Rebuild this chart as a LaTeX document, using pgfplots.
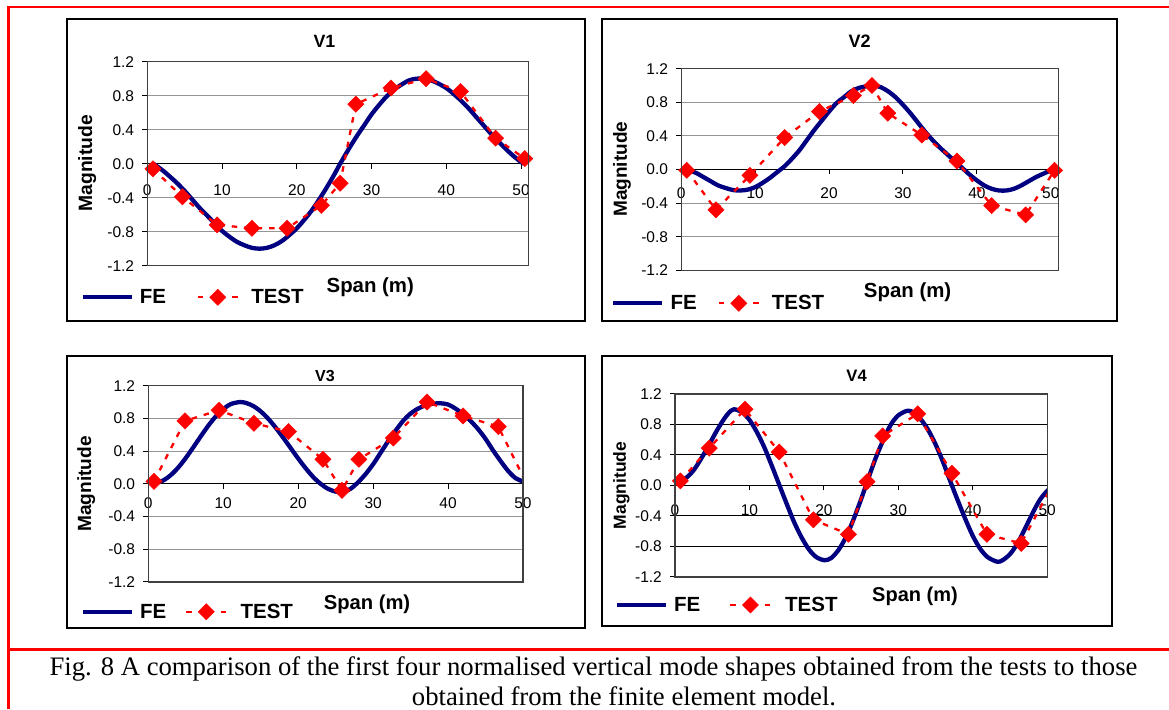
\documentclass[border=0pt]{standalone}
\usepackage{fontspec}
\setmainfont{Liberation Sans}
\newfontfamily\capfont{Liberation Serif}
\usepackage{pgfplots}
\pgfplotsset{compat=1.18}
\definecolor{fenavy}{RGB}{0,0,128}
\definecolor{gridgray}{RGB}{150,150,150}
\newcommand\fs[1]{\fontsize{#1pt}{#1pt}\selectfont}

\pgfplotsset{
  panel/.style={
    scale only axis, anchor=south west,
    xmin=0, ymin=-1.2, ymax=1.2,
    axis x line=middle, axis y line=left,
    axis line style={-, black, line width=1.2pt},
    x axis line style={-}, y axis line style={-},
    hide obscured x ticks=false, hide obscured y ticks=false,
    xtick={0,10,20,30,40,50},
    ytick={-1.2,-0.8,-0.4,0,0.4,0.8,1.2},
    tick align=outside,
    major tick length=5pt,
    tick style={black, line width=1pt},
    ymajorgrids,
    grid style={gridgray, line width=1pt},
    /pgf/number format/assume math mode=true,
    y tick label style={/pgf/number format/fixed, /pgf/number format/fixed zerofill, /pgf/number format/precision=1, font=\fs{15.5}, anchor=east, inner sep=0pt, xshift=-8pt},
    x tick label style={font=\fs{15.5}, anchor=north, inner sep=0pt},
    legend columns=2,
    legend style={draw=none, fill=none, inner sep=0pt, anchor=west, font=\bfseries\fs{20.5}, nodes={inner sep=0pt}, cells={anchor=west}, /tikz/column 1/.style={column sep=6pt}},
  },
  fe/.style={fenavy, line width=4.3pt, smooth, no markers, line join=round,
    legend image code/.code={\draw[##1] (0pt,0pt) -- (49pt,0pt);}},
  test/.style={red, line width=2.3pt, dash pattern=on 5.5pt off 7pt, mark=square*, mark size=5.7pt,
    mark options={solid, rotate=45, fill=red, draw=red, line width=0.5pt}},
  testleg/.style={test, legend image code/.code={\draw[mark repeat=2, mark phase=2, ##1, dash pattern=on 5.5pt off 29pt] plot coordinates {(0pt,0pt) (20pt,0pt) (40pt,0pt)};}},
}

\begin{document}
\begin{tikzpicture}
\path[use as bounding box] (0pt,0pt) rectangle (1169pt,709pt);
% red frame
\draw[red, line width=2.2pt] (8.5pt,0pt) -- (8.5pt,702.3pt) -- (1169pt,702.3pt);
\draw[red, line width=2.2pt] (8.5pt,59.5pt) -- (1169pt,59.5pt);
% panel boxes
\draw[black, line width=2pt] (66.7pt,388.3pt) rectangle (585.2pt,690pt);
\draw[black, line width=2pt] (602.2pt,388pt) rectangle (1117pt,690pt);
\draw[black, line width=2pt] (66.6pt,80.7pt) rectangle (584.5pt,353.3pt);
\draw[black, line width=2pt] (602.2pt,83.3pt) rectangle (1111.7pt,353.3pt);

% ---------------- V1
\begin{axis}[panel, at={(147.3pt,443.3pt)}, width=381.2pt, height=204pt, xmax=51,
  x tick label style={yshift=-15.5pt},
  legend style={at={(-0.1758,-0.1549)}, /tikz/column 2/.style={column sep=30.7pt}, /tikz/column 3/.style={column sep=12.3pt}}]
\addplot[fe] coordinates {(0.8,0) (2,-0.075) (3,-0.15) (4,-0.23) (5,-0.32) (6,-0.42) (7,-0.52) (8,-0.61) (9,-0.70) (10,-0.79) (11,-0.86) (12,-0.92) (13,-0.96) (14,-0.99) (15,-1.00) (16,-0.99) (17,-0.96) (18,-0.91) (19,-0.84) (20,-0.76) (21,-0.66) (22,-0.55) (23,-0.42) (24,-0.28) (25,-0.13) (25.8,0) (26,0.03) (27,0.18) (28,0.32) (29,0.45) (30,0.58) (31,0.69) (32,0.79) (33,0.87) (34,0.93) (35,0.98) (36,1.00) (37,1.00) (38,0.98) (39,0.94) (40,0.89) (41,0.82) (42,0.74) (43,0.65) (44,0.55) (45,0.45) (46,0.35) (47,0.26) (48,0.17) (49,0.09) (50,0.02) (50.4,0)};
\addlegendentry{FE}
\addlegendimage{testleg}
\addlegendentry{TEST}
\addplot[test, forget plot] coordinates {(0.75,-0.06) (4.7,-0.39) (9.35,-0.72) (14.0,-0.76) (18.7,-0.76) (23.3,-0.49) (25.8,-0.23) (27.9,0.70) (32.6,0.89) (37.3,1.00) (41.9,0.85) (46.6,0.30) (50.5,0.06)};
\end{axis}
\draw[black!75, line width=1.2pt] (147.3pt,443.3pt) rectangle (528.5pt,647.3pt);

% ---------------- V2
\begin{axis}[panel, at={(681.2pt,438.7pt)}, width=377pt, height=201.6pt, xmax=51,
  x tick label style={yshift=-13pt},
  legend style={at={(-0.1862,-0.1637)}, /tikz/column 2/.style={column sep=21pt}, /tikz/column 3/.style={column sep=11.8pt}}]
\addplot[fe] coordinates {(0.75,0) (1,-0.01) (2,-0.04) (3,-0.09) (4,-0.14) (5,-0.19) (6,-0.22) (7,-0.245) (8,-0.25) (9,-0.24) (10,-0.21) (11,-0.16) (12,-0.10) (13,-0.03) (14,0.04) (15,0.13) (16,0.23) (17,0.35) (18,0.47) (19,0.58) (20,0.69) (21,0.79) (22,0.86) (23,0.93) (24,0.97) (25,0.99) (26,1.00) (27,0.98) (28,0.93) (29,0.86) (30,0.77) (31,0.67) (32,0.56) (33,0.45) (34,0.35) (35,0.26) (36,0.18) (37,0.10) (38,0.02) (39,-0.06) (40,-0.13) (41,-0.19) (42,-0.23) (43,-0.25) (44,-0.25) (45,-0.23) (46,-0.19) (47,-0.14) (48,-0.09) (49,-0.05) (50,-0.01) (50.6,0)};
\addlegendentry{FE}
\addlegendimage{testleg}
\addlegendentry{TEST}
\addplot[test, forget plot] coordinates {(0.75,-0.01) (4.7,-0.48) (9.3,-0.07) (14.0,0.38) (18.7,0.69) (23.3,0.88) (25.8,1.00) (27.95,0.67) (32.55,0.41) (37.3,0.10) (42.0,-0.43) (46.6,-0.54) (50.5,-0.01)};
\end{axis}
\draw[black!75, line width=1.2pt] (681.2pt,438.7pt) rectangle (1058.2pt,640.3pt);

% ---------------- V3
\begin{axis}[panel, at={(148.3pt,127pt)}, width=374.7pt, height=196.3pt, xmax=50,
  x tick label style={yshift=-9pt},
  legend style={at={(-0.1807,-0.1513)}, /tikz/column 2/.style={column sep=18.8pt}, /tikz/column 3/.style={column sep=13.2pt}}]
\addplot[fe] coordinates {(0.67,0.01) (1,0.012) (2,0.042) (3,0.107) (4,0.20) (5,0.316) (6,0.446) (7,0.581) (8,0.71) (9,0.824) (10,0.914) (11,0.975) (12.2,1.0) (13,0.99) (14,0.952) (15,0.886) (16,0.796) (17,0.687) (18,0.565) (19,0.437) (20,0.31) (21,0.191) (22,0.084) (23,0.0) (24,-0.062) (25,-0.095) (25.6,-0.10) (26,-0.10) (27,-0.06) (28,0.02) (29,0.12) (30,0.24) (31,0.38) (32,0.52) (33,0.65) (34,0.77) (35,0.86) (36,0.92) (37,0.96) (38,0.98) (39,0.985) (40,0.97) (41,0.92) (42,0.85) (43,0.77) (44,0.67) (45,0.55) (46,0.41) (47,0.28) (48,0.16) (49,0.07) (50,0.03) (50.5,0.02)};
\addlegendentry{FE}
\addlegendimage{testleg}
\addlegendentry{TEST}
\addplot[test, forget plot, mark indices={1,2,3,4,5,6,7,8,9,10,11,12}] coordinates {(0.76,0.03) (4.9,0.77) (9.45,0.90) (14.1,0.74) (18.7,0.64) (23.3,0.30) (25.85,-0.08) (28.1,0.30) (32.7,0.56) (37.2,1.00) (42.0,0.83) (46.7,0.70) (50.5,0.00)};
\end{axis}
\draw[black!75, line width=1.2pt] (148.3pt,127pt) rectangle (523pt,323.3pt);

% ---------------- V4
\begin{axis}[panel, at={(675pt,132pt)}, width=372.2pt, height=183pt, xmax=50,
  grid style={black, line width=1pt},
  x tick label style={yshift=-13.5pt},
  legend style={at={(-0.1621,-0.1530)}, /tikz/column 2/.style={column sep=28.9pt}, /tikz/column 3/.style={column sep=13.6pt}}]
\addplot[fe] coordinates {(0.7,0.07) (1.5,0.10) (2.5,0.20) (3.5,0.35) (4.5,0.52) (5.5,0.70) (6.5,0.86) (7.2,0.95) (7.9,1.00) (9,0.96) (10,0.86) (11,0.70) (12,0.50) (13,0.26) (14,0.01) (15,-0.24) (16,-0.48) (17,-0.68) (18,-0.84) (19,-0.94) (20.1,-0.98) (21,-0.95) (22,-0.84) (23,-0.67) (24,-0.44) (25,-0.18) (26,0.10) (27,0.37) (28,0.60) (29,0.80) (30,0.92) (31.2,0.98) (32,0.96) (33,0.87) (34,0.73) (35,0.54) (36,0.31) (37,0.05) (38,-0.20) (39,-0.44) (40,-0.66) (41,-0.83) (42,-0.94) (43.3,-1.00) (44,-0.98) (45,-0.90) (46,-0.76) (47,-0.57) (48,-0.37) (49,-0.19) (50,-0.07) (50.3,-0.05)};
\addlegendentry{FE}
\addlegendimage{testleg}
\addlegendentry{TEST}
\addplot[test, forget plot, mark indices={1,2,3,4,5,6,7,8,9,10,11,12}] coordinates {(0.72,0.06) (4.6,0.49) (9.4,1.00) (14.0,0.44) (18.6,-0.45) (23.3,-0.64) (25.8,0.05) (27.9,0.65) (32.6,0.94) (37.2,0.16) (41.9,-0.64) (46.5,-0.76) (50.5,-0.03)};
\end{axis}
\draw[black!75, line width=1.2pt] (675pt,132pt) rectangle (1047.2pt,315pt);

% titles
\node[anchor=base, inner sep=0pt, font=\bfseries\fs{17.8}] at (324.4pt,661.3pt) {V1};
\node[anchor=base, inner sep=0pt, font=\bfseries\fs{18}] at (859.6pt,661.3pt) {V2};
\node[anchor=base, inner sep=0pt, font=\bfseries\fs{16}] at (325pt,327.3pt) {V3};
\node[anchor=base, inner sep=0pt, font=\bfseries\fs{16.6}] at (856.6pt,327.3pt) {V4};
% y labels
\node[rotate=90, anchor=base, inner sep=0pt, font=\bfseries\fs{19.3}] at (92.2pt,545.7pt) {Magnitude};
\node[rotate=90, anchor=base, inner sep=0pt, font=\bfseries\fs{19}] at (626.9pt,539.8pt) {Magnitude};
\node[rotate=90, anchor=base, inner sep=0pt, font=\bfseries\fs{19.1}] at (91.1pt,225.2pt) {Magnitude};
\node[rotate=90, anchor=base, inner sep=0pt, font=\bfseries\fs{17.5}] at (625.8pt,223.5pt) {Magnitude};
% x labels
\node[anchor=base, inner sep=0pt, font=\bfseries\fs{20.4}] at (370.3pt,416pt) {Span (m)};
\node[anchor=base, inner sep=0pt, font=\bfseries\fs{20.4}] at (907.6pt,411.3pt) {Span (m)};
\node[anchor=base, inner sep=0pt, font=\bfseries\fs{20.2}] at (367pt,99.7pt) {Span (m)};
\node[anchor=base, inner sep=0pt, font=\bfseries\fs{20}] at (915pt,107.3pt) {Span (m)};
% caption
\node[anchor=base, inner sep=0pt, font=\capfont\fs{26.7}] at (593.5pt,33.3pt) {Fig. 8 A comparison of the first four normalised vertical mode shapes obtained from the tests to those};
\node[anchor=base, inner sep=0pt, font=\capfont\fs{26.7}] at (624pt,4pt) {obtained from the finite element model.};
\end{tikzpicture}
\end{document}
